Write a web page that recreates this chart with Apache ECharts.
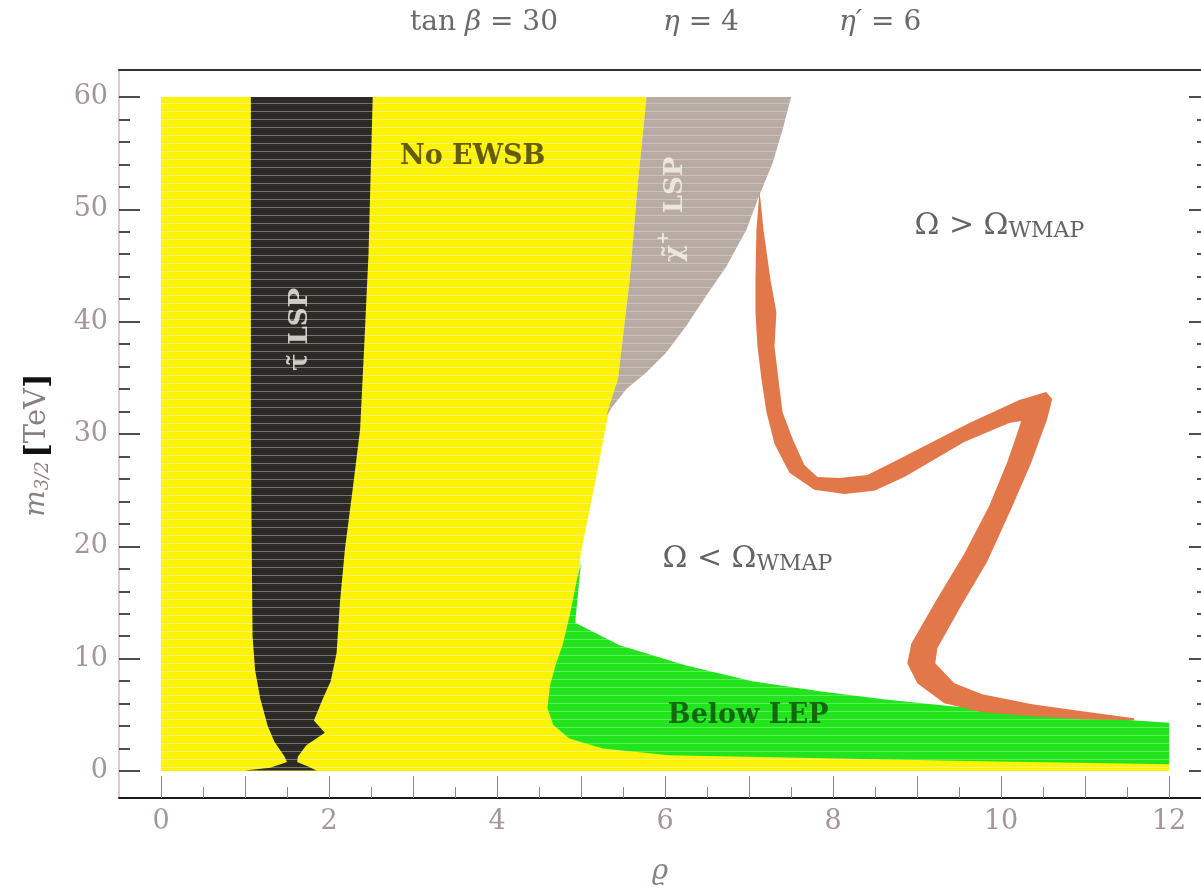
<!DOCTYPE html>
<html>
<head>
<meta charset="utf-8">
<script src="https://cdn.jsdelivr.net/npm/echarts@6/dist/echarts.min.js"></script>
<style>html,body{margin:0;padding:0;background:#fff}#chart{width:1201px;height:891px}</style>
</head>
<body>
<div id="chart"></div>
<script>
// ---------- ticks ----------
const xTicksMajor = [0,1,2,3,4,5,6,7,8,9,10,11,12];
const xTicksMinor = [0.5,1.5,2.5,3.5,4.5,5.5,6.5,7.5,8.5,9.5,10.5,11.5];
const xTickLabels = [0,2,4,6,8,10,12];
const yTicksMajor = [0,10,20,30,40,50,60];
const yTicksMinor = [2,4,6,8,12,14,16,18,22,24,26,28,32,34,36,38,42,44,46,48,52,54,56,58];

// ---------- regions (rho, m3/2) ----------
const noEwsbRegion = [[0,0],[0,60],[5.78,60],[5.68,52.6],[5.58,43.8],[5.44,34.9],[5.32,31.6],[5.16,25.4],[5.0,19.5],[4.9,13.6],[5.3,10],[6,6],[8,3],[12,2.5],[12,0]];
const stauRegion = [[1.07,60],[2.52,60],[2.47,46],[2.42,38],[2.37,30.4],[2.28,25],[2.19,19.8],[2.13,15],[2.09,10.5],[2.02,8],[1.93,6.5],[1.82,4.5],[1.95,3.4],[1.73,2.3],[1.63,1.3],[1.62,0.8],[1.75,0.4],[1.85,0.05],[1.0,0.05],[1.3,0.3],[1.5,0.8],[1.47,1.3],[1.35,2.6],[1.27,4],[1.18,6.5],[1.12,9],[1.09,12],[1.08,20],[1.07,30]];
const charginoRegion = [[5.78,60],[7.50,60],[7.40,57.1],[7.28,54.1],[7.12,51.2],[6.97,48.2],[6.73,44.9],[6.49,42.3],[6.25,39.6],[6.01,37.2],[5.78,35.5],[5.54,34.0],[5.38,32.5],[5.30,31.6],[5.44,34.9],[5.58,43.8],[5.68,52.6]];
const lepRegion = [[5.0,18.6],[4.96,15.5],[4.93,13.2],[5.46,11.2],[6.25,9.4],[7.04,8.0],[7.84,7.1],[8.6,6.4],[9.38,5.8],[10.57,5.0],[12,4.3],[12,0.6],[9.6,0.9],[6.05,1.4],[5.26,2.0],[4.86,2.9],[4.67,4.1],[4.6,5.6],[4.63,7.6],[4.7,9.5],[4.78,11.2],[4.87,14],[4.95,17]];
const wmapBand = [
  [7.124,51.57],[7.088,48.19],[7.076,43.76],[7.076,40.83],[7.100,37.81],[7.148,34.88],[7.207,31.95],[7.303,29.11],[7.481,26.54],[7.778,25.03],[8.135,24.67],[8.492,24.94],[8.849,26.18],[9.562,29.29],[10.097,30.98],[10.240,31.15],[10.169,29.56],[10.074,27.51],[9.860,23.61],[9.562,19.35],[9.241,15.35],[8.932,11.36],[8.884,9.59],[9.003,7.81],[9.324,6.04],[9.776,5.24],[10.371,4.88],[10.966,4.62],[11.584,4.53],
  [11.584,4.70],[10.966,5.33],[10.371,5.95],[9.776,6.83],[9.443,7.81],[9.217,9.59],[9.241,10.92],[9.527,14.73],[9.836,18.64],[10.121,23.34],[10.359,27.43],[10.549,31.33],[10.609,33.11],[10.538,33.73],[10.217,33.02],[9.622,30.98],[8.765,27.69],[8.409,26.36],[8.076,26.09],[7.814,26.18],[7.659,27.25],[7.529,29.38],[7.398,31.95],[7.350,34.88],[7.303,37.81],[7.326,40.83],[7.255,43.76],[7.172,48.19],[7.136,50.86]
];

// ---------- annotations ----------
const annotations = [
  {text:'{b|No EWSB}', at:[3.71,54.7], rotate:0},
  {text:'{w|τ̃ LSP}', at:[1.62,39.3], rotate:90},
  {text:'{w|χ̃}{sup|+}{w|  LSP}', at:[6.08,50.0], rotate:90},
  {text:'{a|Ω > Ω}{s|WMAP}', at:[9.98,48.4], rotate:0},
  {text:'{a|Ω < Ω}{s|WMAP}', at:[6.98,18.8], rotate:0},
  {text:'{g|Below LEP}', at:[6.99,4.9], rotate:0}
];

const SERIF = '"DejaVu Serif", "Liberation Serif", serif';
const X_MIN = -0.5, X_MAX = 12.38, Y_MIN = -2.4, Y_MAX = 62.4;

function stripes(base, line, h) {
  const c = document.createElement('canvas');
  c.width = 4; c.height = h;
  const g = c.getContext('2d');
  g.fillStyle = base; g.fillRect(0, 0, 4, h);
  g.fillStyle = line; g.fillRect(0, h - 1, 4, 1);
  return {image: c, repeat: 'repeat'};
}

function regionSeries(name, pts, fill, z) {
  return {
    type: 'custom', name: name, coordinateSystem: 'cartesian2d',
    xAxisIndex: 0, yAxisIndex: 0, data: pts, encode: {x: 0, y: 1},
    silent: true, z: z, clip: true,
    renderItem: function (params, api) {
      if (params.dataIndex !== 0) return null;
      const points = pts.map(function (p) { return api.coord(p); });
      return {type: 'polygon', shape: {points: points}, style: {fill: fill, stroke: null}};
    }
  };
}

const tickLabelColor = '#a39696';
const titleColor = '#6a6a6a';
const chart = echarts.init(document.getElementById('chart'), null, {renderer: 'canvas'});

const richLabels = {
  b: {fontFamily: SERIF, fontWeight: 'bold', fontSize: 27, color: '#3d3408'},
  w: {fontFamily: SERIF, fontWeight: 'bold', fontSize: 26, color: '#f7f4ee', verticalAlign: 'bottom', lineHeight: 32},
  sup: {fontFamily: SERIF, fontWeight: 'bold', fontSize: 16, color: '#f7f4ee', verticalAlign: 'top', lineHeight: 32},
  a: {fontFamily: SERIF, fontSize: 30, color: '#3c3c3c', verticalAlign: 'top', lineHeight: 32},
  s: {fontFamily: SERIF, fontSize: 22, color: '#3c3c3c', verticalAlign: 'top', lineHeight: 32, padding: [9, 0, 0, 0]},
  g: {fontFamily: SERIF, fontWeight: 'bold', fontSize: 27, color: '#0d4a0d'}
};

const titleRich = {
  n: {fontFamily: SERIF, fontWeight: 'normal', fontSize: 28, color: titleColor},
  i: {fontFamily: SERIF, fontWeight: 'normal', fontStyle: 'italic', fontSize: 28, color: titleColor}
};

const option = {
  animation: false,
  backgroundColor: '#ffffff',
  title: [
    {text: '{n|tan }{i|β}{n| = 30}', left: 405, top: 4, textStyle: {fontWeight: 'normal', rich: titleRich}},
    {text: '{i|η}{n| = 4}', left: 658, top: 4, textStyle: {fontWeight: 'normal', rich: titleRich}},
    {text: '{i|η′}{n| = 6}', left: 834, top: 4, textStyle: {fontWeight: 'normal', rich: titleRich}}
  ],
  grid: {left: 119, top: 70, width: 1083, height: 730, containLabel: false, show: false},
  xAxis: [
    {
      type: 'value', min: X_MIN, max: X_MAX, position: 'bottom',
      axisLine: {show: true, onZero: false, lineStyle: {color: '#1a1a1a', width: 2}},
      axisTick: {show: true, inside: true, length: 22, customValues: xTicksMajor, lineStyle: {color: '#8a8a8a', width: 1}},
      axisLabel: {show: true, customValues: xTickLabels, margin: 10, fontFamily: SERIF, fontSize: 27, color: tickLabelColor},
      splitLine: {show: false},
      name: 'ϱ', nameLocation: 'middle', nameGap: 60,
      nameTextStyle: {fontFamily: SERIF, fontStyle: 'italic', fontSize: 28, color: '#8a8080'}
    },
    {
      type: 'value', min: X_MIN, max: X_MAX, position: 'bottom',
      axisLine: {show: false, onZero: false},
      axisTick: {show: true, inside: true, length: 11, customValues: xTicksMinor, lineStyle: {color: '#8a8a8a', width: 1}},
      axisLabel: {show: false}, splitLine: {show: false}
    },
    {
      type: 'value', min: X_MIN, max: X_MAX, position: 'top',
      axisLine: {show: true, onZero: false, lineStyle: {color: '#333333', width: 2}},
      axisTick: {show: false}, axisLabel: {show: false}, splitLine: {show: false}
    }
  ],
  yAxis: [
    {
      type: 'value', min: Y_MIN, max: Y_MAX, position: 'left',
      axisLine: {show: true, onZero: false, lineStyle: {color: '#d6b8b8', width: 1.5}},
      axisTick: {show: true, inside: true, length: 21, customValues: yTicksMajor, lineStyle: {color: '#151515', width: 1.5}},
      axisLabel: {show: true, customValues: yTicksMajor, margin: 11, fontFamily: SERIF, fontSize: 27, color: tickLabelColor},
      splitLine: {show: false},
      name: '{m|m}{sub|3/2} {br|[}{t|TeV}{br|]}', nameLocation: 'middle', nameRotate: 90, nameGap: 62,
      nameTextStyle: {
        padding: [0, 22, 0, 0],
        rich: {
          m: {fontFamily: SERIF, fontStyle: 'italic', fontSize: 28, color: '#8a8080', verticalAlign: 'top', lineHeight: 34},
          sub: {fontFamily: SERIF, fontStyle: 'italic', fontSize: 18, color: '#8a8080', verticalAlign: 'top', lineHeight: 34, padding: [11, 0, 0, 0]},
          br: {fontFamily: SERIF, fontWeight: 'bold', fontSize: 31, color: '#111111', verticalAlign: 'top', lineHeight: 34},
          t: {fontFamily: SERIF, fontSize: 29, color: '#8a8080', verticalAlign: 'top', lineHeight: 34}
        }
      }
    },
    {
      type: 'value', min: Y_MIN, max: Y_MAX, position: 'left',
      axisLine: {show: false, onZero: false},
      axisTick: {show: true, inside: true, length: 11, customValues: yTicksMinor, lineStyle: {color: '#151515', width: 1.5}},
      axisLabel: {show: false}, splitLine: {show: false}
    },
    {
      type: 'value', min: Y_MIN, max: Y_MAX, position: 'right',
      axisLine: {show: false, onZero: false},
      axisTick: {show: true, inside: true, length: 12, customValues: yTicksMajor, lineStyle: {color: '#151515', width: 1.5}},
      axisLabel: {show: false}, splitLine: {show: false}
    },
    {
      type: 'value', min: Y_MIN, max: Y_MAX, position: 'right',
      axisLine: {show: false, onZero: false},
      axisTick: {show: true, inside: true, length: 4, customValues: yTicksMinor, lineStyle: {color: '#151515', width: 1.5}},
      axisLabel: {show: false}, splitLine: {show: false}
    }
  ],
  series: [
    regionSeries('No EWSB', noEwsbRegion, stripes('#fcf300', '#f7f07a', 8), 1),
    regionSeries('stau LSP', stauRegion, stripes('#2b2a27', '#75736c', 8), 2),
    regionSeries('chargino LSP', charginoRegion, stripes('#b7aba3', '#cbc2bc', 8), 2),
    regionSeries('Below LEP', lepRegion, stripes('#22e41d', '#5fec5a', 8), 3),
    regionSeries('WMAP', wmapBand, '#e2784a', 4),
    {
      type: 'scatter', xAxisIndex: 0, yAxisIndex: 0, symbolSize: 0, silent: true, z: 10,
      data: annotations.map(function (a) {
        return {value: a.at, label: {show: true, position: 'inside', rotate: a.rotate, formatter: a.text, rich: richLabels}};
      })
    }
  ]
};
chart.setOption(option);
</script>
</body>
</html>
